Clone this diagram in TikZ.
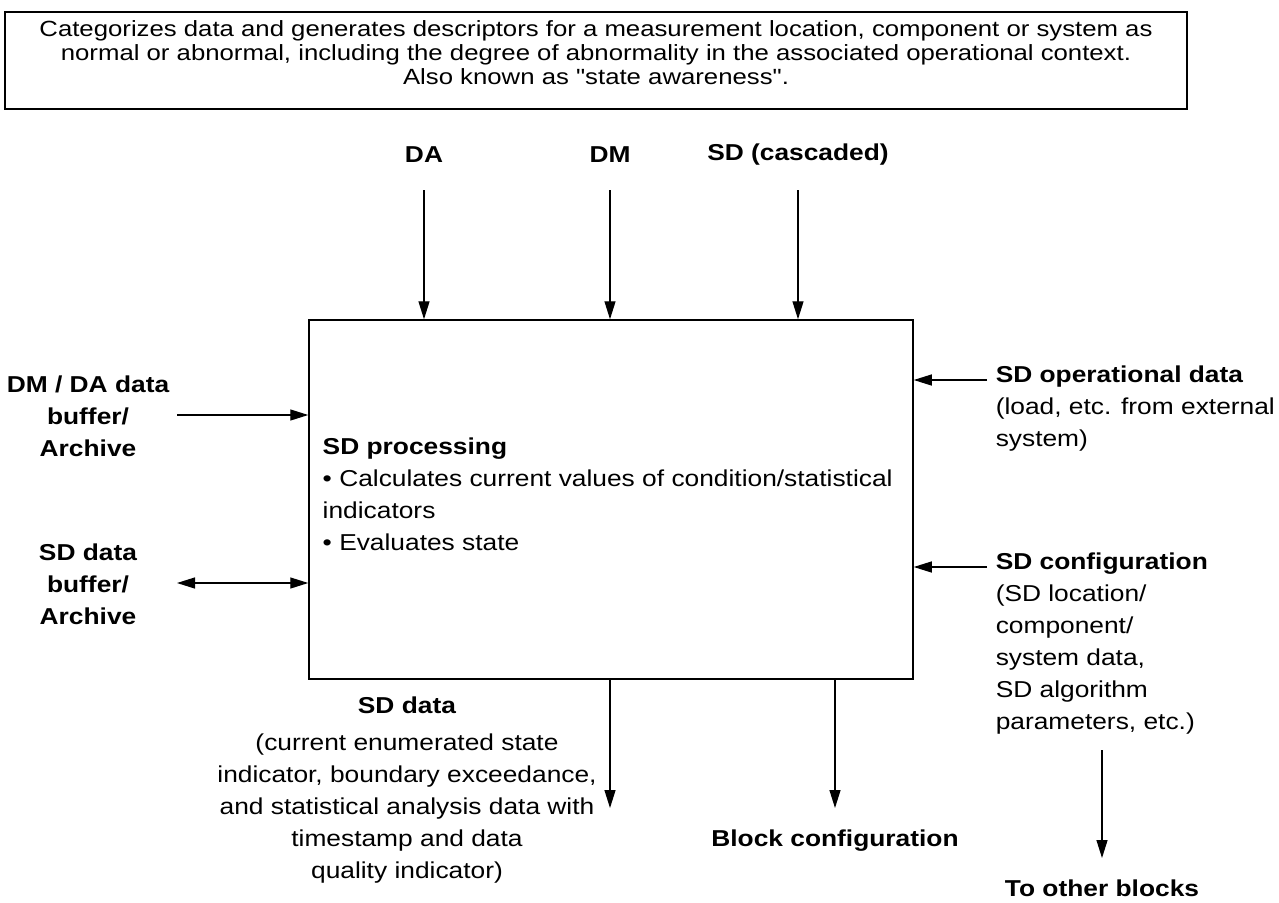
\documentclass[tikz,border=0pt]{standalone}
\usepackage{fontspec}
\setmainfont{Liberation Sans}
\usetikzlibrary{arrows.meta}
\begin{document}
\begin{tikzpicture}[x=1pt,y=-1pt,
  line width=1.3pt,
  tip/.tip={Triangle[length=18pt,width=11pt]},
  arr/.style={-tip},
  darr/.style={tip-tip},
  caption/.style={draw,line width=1.5pt,inner sep=0pt,minimum width=1182pt,minimum height=97pt,
    align=center},
  captext/.style={inner sep=0pt,align=center,xscale=1.17,font=\fontsize{22}{24}\selectfont},
  lbl/.style={inner sep=0pt,align=center,xscale=1.145,font=\fontsize{23}{32}\selectfont},
  blbl/.style={lbl,font=\fontsize{23}{32}\selectfont\bfseries},
  rlbl/.style={lbl,align=left,anchor=west},
  mainbox/.style={draw,line width=1.5pt,minimum width=604pt,minimum height=359pt,inner sep=0pt}]
\useasboundingbox (0,0) rectangle (1279,902);

% header description
\node[caption] (cap) at (596,60.5) {};
\node[captext] (captxt) at (596,53) {Categorizes data and generates descriptors for a measurement location, component or system as\\
normal or abnormal, including the degree of abnormality in the associated operational context.\\
Also known as \textquotedbl state awareness\textquotedbl.};

% processing block
\node[mainbox] (box) at (611,499.5) {};
\node[rlbl] (proc) at (322,494.5) {\textbf{SD processing}\\
\textbullet\ Calculates current values of condition/statistical\\
indicators\\
\textbullet\ Evaluates state};

% inputs from above
\node[blbl] (da) at (424,155) {DA};
\node[blbl] (dm) at (610,155) {DM};
\node[blbl] (sdc) at (798,155) {SD (cascaded)};
\coordinate (daS) at (424,190);
\coordinate (dmS) at (610,190);
\coordinate (sdcS) at (798,190);
\draw[arr] (daS) -- (daS |- box.north);
\draw[arr] (dmS) -- (dmS |- box.north);
\draw[arr] (sdcS) -- (sdcS |- box.north);

% left side
\node[blbl] (dmda) at (88,416) {DM / DA data\\buffer/\\Archive};
\node[blbl] (sdbuf) at (88,584) {SD data\\buffer/\\Archive};
\coordinate (dmdaS) at (177,415);
\coordinate (sdbufS) at (177,583);
\draw[arr] (dmdaS) -- (dmdaS -| box.west);
\draw[darr] (sdbufS) -- (sdbufS -| box.west);

% right side
\node[rlbl] (opdata) at (995,408.5) {\textbf{SD operational data}\\(load, etc. from external\\system)};
\node[rlbl] (config) at (995,644) {\textbf{SD configuration}\\(SD location/\\component/\\system data,\\SD algorithm\\parameters, etc.)};
\coordinate (opS) at (987,380);
\coordinate (cfgS) at (987,567);
\draw[arr] (opS) -- (opS -| box.east);
\draw[arr] (cfgS) -- (cfgS -| box.east);

% outputs below
\coordinate (sdoutE) at (610,808);
\coordinate (blkE) at (835,808);
\draw[arr] (sdoutE |- box.south) -- (sdoutE);
\draw[arr] (blkE |- box.south) -- (blkE);
\node[lbl] (sdout) at (407,790) {\textbf{SD data}\\[5pt](current enumerated state\\indicator, boundary exceedance,\\and statistical analysis data with\\timestamp and data\\quality indicator)};
\node[blbl] (blk) at (835,841) {Block configuration};

% onward to other blocks
\coordinate (othS) at (1102,750);
\coordinate (othE) at (1102,858);
\draw[arr] (othS) -- (othE);
\node[blbl] (oth) at (1102,888) {To other blocks};
\end{tikzpicture}
\end{document}
